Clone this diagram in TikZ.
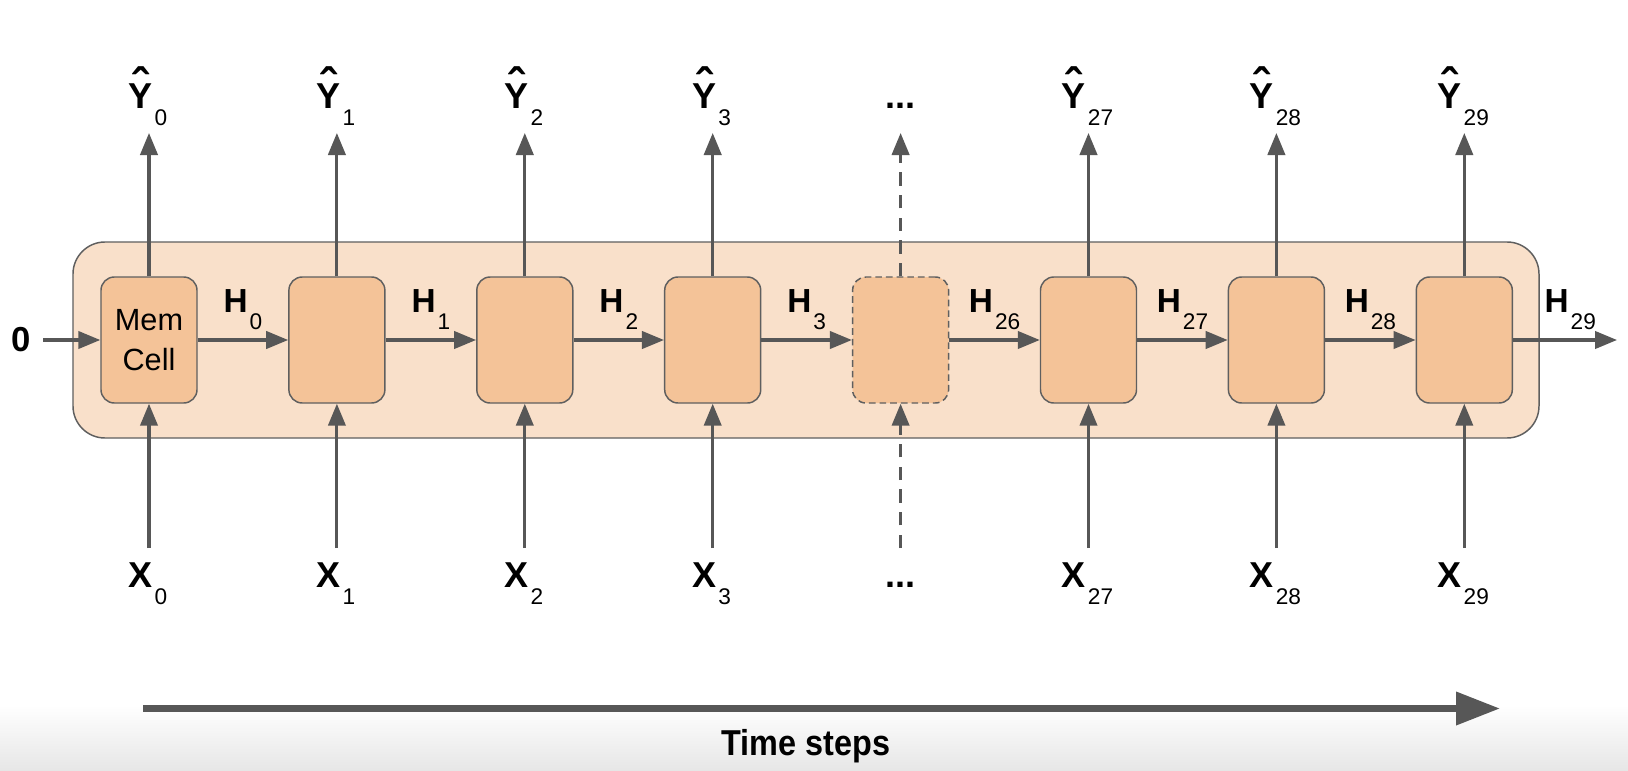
\documentclass[tikz,border=0pt]{standalone}
\usepackage{fontspec}
\setmainfont{Liberation Sans}
\usepackage{graphicx}
\usetikzlibrary{arrows.meta}
\definecolor{outerfill}{HTML}{F9E0CA}
\definecolor{cellfill}{HTML}{F4C398}
\definecolor{edgegray}{HTML}{5F5F5F}
\definecolor{arrowgray}{HTML}{575757}
\definecolor{bandgray}{HTML}{E6E6E6}
\newcommand\subtxt[1]{\kern1.5pt\raisebox{-12.75pt}{\mdseries\fontsize{17}{17}\selectfont #1}}
\newcommand\yhatsym{\setbox0\hbox{Y}\rlap{\hbox to\wd0{\hss\raisebox{4.2pt}{\fontsize{36}{36}\selectfont ˆ}\hss}}\box0}
\begin{document}
\begin{tikzpicture}[x=0.75pt,y=-0.75pt,
  lbl/.style={font=\bfseries\fontsize{27}{27}\selectfont, inner sep=0pt, anchor=base},
  hlbl/.style={font=\bfseries\fontsize{25}{25}\selectfont, inner sep=0pt, anchor=base},
  framebox/.style={draw=edgegray, fill=outerfill, line width=1.1pt, rounded corners=24pt,
    minimum width=1099.5pt, minimum height=147pt, inner sep=0pt},
  cellbox/.style={draw=edgegray, fill=cellfill, line width=1.1pt, rounded corners=10pt,
    minimum width=72pt, minimum height=94.5pt, inner sep=0pt},
  ghostbox/.style={cellbox, dash pattern=on 5pt off 3pt},
  flow/.style={draw=arrowgray, line width=2.3pt, -{Triangle[length=16.5pt,width=13pt]}},
  ghostflow/.style={flow, dash pattern=on 10pt off 7pt},
  timearrow/.style={draw=arrowgray, line width=5.25pt, -{Triangle[length=33pt,width=24pt]}}
]
\fill[white] (0,0) rectangle (1628,771);
\shade[top color=white, bottom color=bandgray] (0,705) rectangle (1628,771);
\useasboundingbox (0,0) rectangle (1628,771);

\node[framebox] (frame) at (806,340) {};

% memory cells
\node[cellbox, align=center, font=\fontsize{23}{30}\selectfont] (c0) at (149,340) {Mem\\Cell};
\foreach \i in {1,2,3,5,6,7}{
  \node[cellbox] (c\i) at ({149+187.9*\i},340) {};
}
\node[ghostbox] (c4) at ({149+187.9*4},340) {};

% outputs and inputs
\foreach \i/\s in {0/0,1/1,2/2,3/3,5/27,6/28,7/29}{
  \coordinate (yt\i) at ({149+187.9*\i},133);
  \coordinate (xb\i) at ({149+187.9*\i},548);
  \node[lbl] (y\i) at ({149+187.9*\i-1},108) {\yhatsym\subtxt{\s}};
  \node[lbl] (x\i) at ({149+187.9*\i-1},587) {X\subtxt{\s}};
  \draw[flow] (c\i.north) -- (yt\i);
  \draw[flow] (xb\i) -- (c\i.south);
}
\coordinate (yt4) at ({149+187.9*4},133);
\coordinate (xb4) at ({149+187.9*4},548);
\draw[ghostflow] (c4.north) -- (yt4);
\draw[ghostflow] (xb4) -- (c4.south);
\node[lbl] (ydots) at ({149+187.9*4},108) {...};
\node[lbl] (xdots) at ({149+187.9*4},587) {...};

% hidden state
\coordinate (inarr) at (43,340);
\node[font=\bfseries\fontsize{26}{26}\selectfont, inner sep=0pt] (zero) at (21.5,340) {0};
\draw[flow] (inarr) -- (c0.west);
\foreach \a/\b in {0/1,1/2,2/3,3/4,4/5,5/6,6/7}{
  \draw[flow] (c\a.east) -- (c\b.west);
}
\coordinate (outarr) at (1617,340);
\draw[flow] (c7.east) -- (outarr);
\foreach \k/\s in {0/0,1/1,2/2,3/3,4/26,5/27,6/28}{
  \node[hlbl] (h\k) at ({149+187.9*\k+94},312) {H\subtxt{\s}};
}
\node[hlbl] (h7) at ({149+187.9*7+106},312) {H\subtxt{29}};

% time axis
\coordinate (ts1) at (143,708.5);
\coordinate (ts2) at (1500,708.5);
\draw[timearrow] (ts1) -- (ts2);
\node[lbl] (tlabel) at (806,755) {\scalebox{0.9}[1]{Time steps}};
\end{tikzpicture}
\end{document}
